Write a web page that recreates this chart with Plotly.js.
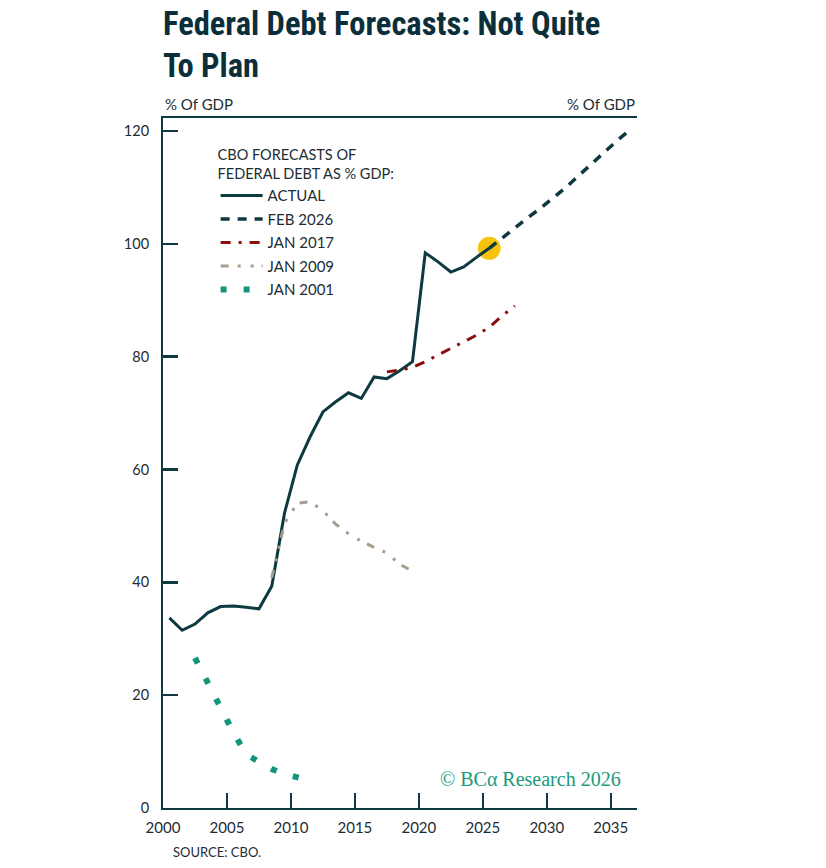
<!DOCTYPE html>
<html>
<head>
<meta charset="utf-8">
<script src="https://cdn.plot.ly/plotly-3.0.1.min.js"></script>
<style>
  html, body { margin: 0; padding: 0; background: #ffffff; }
  #chart { width: 826px; height: 868px; }
</style>
</head>
<body>
<div id="chart"></div>
<script>
// ---- Data (fiscal years, % of GDP) ----
const actualYears = [2000, 2001, 2002, 2003, 2004, 2005, 2006, 2007, 2008, 2009, 2010, 2011, 2012,
                     2013, 2014, 2015, 2016, 2017, 2018, 2019, 2020, 2021, 2022, 2023, 2024, 2025];
const actualDebt  = [33.7, 31.5, 32.6, 34.6, 35.7, 35.8, 35.6, 35.3, 39.3, 52.3, 60.8, 65.8, 70.2,
                     72.0, 73.6, 72.6, 76.4, 76.1, 77.5, 79.1, 98.4, 96.8, 95.0, 95.9, 97.6, 99.2];

const feb2026Years = [2025, 2026, 2027, 2028, 2029, 2030, 2031, 2032, 2033, 2034, 2035, 2036];
const feb2026Debt  = [99.2, 101.0, 102.9, 104.6, 106.3, 108.1, 110.0, 112.1, 114.2, 116.3, 118.3, 120.2];

const jan2017Years = [2017, 2018, 2019, 2020, 2021, 2022, 2023, 2024, 2025, 2026, 2027];
const jan2017Debt  = [77.3, 77.6, 78.1, 79.1, 80.3, 81.5, 82.6, 83.8, 85.2, 87.2, 89.0];

const jan2009Years = [2008, 2009, 2010, 2011, 2012, 2013, 2014, 2015, 2016, 2017, 2018, 2019];
const jan2009Debt  = [40.8, 50.5, 54.0, 54.3, 52.7, 50.3, 48.6, 47.3, 46.2, 45.2, 43.2, 42.0];

const jan2001Years = [2002, 2003, 2004, 2005, 2006, 2007, 2008, 2009, 2010, 2011];
const jan2001Debt  = [26.6, 22.0, 17.7, 13.4, 9.5, 8.1, 6.9, 6.0, 5.4, 4.9];

const xTicks = [2000, 2005, 2010, 2015, 2020, 2025, 2030, 2035];
const yTicks = [0, 20, 40, 60, 80, 100, 120];

// fiscal years are drawn at mid-year
const mid = ys => ys.map(y => y + 0.5);

const DARK = '#0d3a40';
const TEXT = '#1c2d33';
const FONT = 'Lato, "Open Sans", sans-serif';

const traces = [
  { // highlight of latest actual value
    x: mid(actualYears.slice(-1)), y: actualDebt.slice(-1),
    type: 'scatter', mode: 'markers', showlegend: false, hoverinfo: 'skip',
    marker: { size: 23, color: '#f6c40c' }
  },
  {
    name: 'ACTUAL', legendgroup: 'a',
    x: mid(actualYears), y: actualDebt, type: 'scatter', mode: 'lines',
    line: { color: DARK, width: 3 }
  },
  {
    name: 'FEB 2026', legendgroup: 'b',
    x: mid(feb2026Years), y: feb2026Debt, type: 'scatter', mode: 'lines',
    line: { color: DARK, width: 3.5, dash: '9px,8px' }
  },
  {
    name: 'JAN 2017', legendgroup: 'c',
    x: mid(jan2017Years), y: jan2017Debt, type: 'scatter', mode: 'lines',
    line: { color: '#8b0d0d', width: 3, dash: '10px,8px,3px,8px' }
  },
  {
    name: 'JAN 2009', legendgroup: 'd',
    x: mid(jan2009Years), y: jan2009Debt, type: 'scatter', mode: 'lines',
    line: { color: '#a89c8e', width: 3, dash: '8px,9px,3px,10px,3px,8px' }
  },
  {
    name: 'JAN 2001', legendgroup: 'e',
    x: mid(jan2001Years), y: jan2001Debt, type: 'scatter', mode: 'lines',
    line: { color: '#12957a', width: 6, dash: '6px,17px' }
  }
];

const axisCommon = {
  showgrid: false, zeroline: false,
  showline: true, linecolor: DARK, linewidth: 2,
  ticks: 'inside', ticklen: 15, tickwidth: 2.5, tickcolor: DARK
};

const layout = {
  width: 826, height: 868,
  paper_bgcolor: '#ffffff', plot_bgcolor: '#ffffff',
  margin: { l: 163, r: 189, t: 118, b: 60 },
  title: {
    text: 'Federal Debt Forecasts: Not Quite<br>To Plan',
    font: { family: '"Roboto Condensed", "Open Sans Condensed", sans-serif', size: 32.5, color: '#0b2f3a', weight: 700 },
    xref: 'paper', x: 0, xanchor: 'left',
    yref: 'container', y: 0.960, yanchor: 'top'
  },
  xaxis: Object.assign({}, axisCommon, {
    range: [2000, 2037.05], tickvals: xTicks, ticktext: xTicks.map(String),
    mirror: true, ticklabelstandoff: 5,
    tickfont: { family: FONT, size: 15, color: TEXT }
  }),
  yaxis: Object.assign({}, axisCommon, {
    range: [0, 122.3], tickvals: yTicks, ticktext: yTicks.map(String),
    ticklabelstandoff: 9,
    tickfont: { family: FONT, size: 14.5, color: TEXT }
  }),
  yaxis2: Object.assign({}, axisCommon, {
    range: [0, 122.3], tickvals: yTicks, ticktext: yTicks.map(String),
    overlaying: 'y', side: 'right', ticklabelstandoff: 8,
    tickfont: { family: FONT, size: 14.5, color: TEXT }
  }),
  showlegend: true,
  legend: {
    x: 0.111, y: 0.966, xanchor: 'left', yanchor: 'top',
    bgcolor: 'rgba(0,0,0,0)', borderwidth: 0,
    traceorder: 'grouped', tracegroupgap: 1, itemwidth: 42,
    font: { family: FONT, size: 15, color: TEXT },
    title: { text: 'CBO FORECASTS OF<br>FEDERAL DEBT AS % GDP:', side: 'top',
             font: { family: FONT, size: 14.5, color: TEXT } }
  },
  annotations: [
    { text: '% Of GDP', xref: 'paper', yref: 'paper', x: 0, y: 1, xanchor: 'left', yanchor: 'bottom',
      yshift: 3, showarrow: false, font: { family: FONT, size: 15, color: TEXT } },
    { text: '% Of GDP', xref: 'paper', yref: 'paper', x: 1, y: 1, xanchor: 'right', yanchor: 'bottom',
      yshift: 3, showarrow: false, font: { family: FONT, size: 15, color: TEXT } },
    { text: 'SOURCE: CBO.', xref: 'paper', yref: 'paper', x: 0, y: 0, xanchor: 'left', yanchor: 'middle',
      xshift: 8, yshift: -44, showarrow: false, font: { family: FONT, size: 13, color: TEXT } },
    { text: '© BCα Research 2026', xref: 'paper', yref: 'paper', x: 1, y: 0, xanchor: 'right', yanchor: 'middle',
      xshift: -14, yshift: 29, showarrow: false,
      font: { family: '"Liberation Serif", "DejaVu Serif", serif', size: 20, color: '#1a9a7c' } }
  ]
};

Plotly.newPlot('chart', traces, layout, { displayModeBar: false, staticPlot: true });
</script>
</body>
</html>
